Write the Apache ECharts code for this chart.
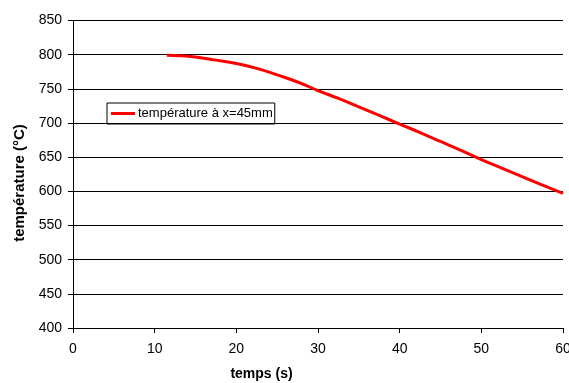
<!DOCTYPE html>
<html>
<head>
<meta charset="utf-8">
<script src="https://cdn.jsdelivr.net/npm/echarts@6/dist/echarts.min.js"></script>
<style>
html,body{margin:0;padding:0;background:#fff;}
#chart{width:569px;height:383px;}
</style>
</head>
<body>
<div id="chart"></div>
<script>
var seriesName = 'température à x=45mm';
var times = [11.5, 13, 15, 17.5, 20, 22.5, 25, 27.5, 30, 32.5, 35, 37.5, 40, 42.5, 45, 47.5, 50, 52.5, 55, 57.5, 60];
var temps = [799, 798.5, 796.5, 792, 787, 780, 770.5, 760, 747.5, 736, 723.5, 711, 698.5, 686, 673, 660, 646.5, 634, 621.5, 609, 597];
var xTicks = [0, 60, 10];
var yTicks = [400, 850, 50];
var xTitle = 'temps (s)';
var yTitle = 'température (°C)';

var data = times.map(function (t, i) { return [t, temps[i]]; });
var chart = echarts.init(document.getElementById('chart'), null, {renderer: 'canvas'});
var font = 'Liberation Sans, Arial, sans-serif';
chart.setOption({
  animation: false,
  backgroundColor: '#fff',
  grid: {left: 73, right: 6, top: 20.5, bottom: 55, containLabel: false, outerBoundsMode: 'none'},
  xAxis: {
    type: 'value', min: xTicks[0], max: xTicks[1], interval: xTicks[2],
    axisLine: {show: true, lineStyle: {color: '#000', width: 1}},
    axisTick: {show: true, length: 5, inside: false, lineStyle: {color: '#000'}},
    axisLabel: {color: '#000', fontSize: 14, fontFamily: font, margin: 14, hideOverlap: false, showMaxLabel: true},
    splitLine: {show: false}
  },
  yAxis: {
    type: 'value', min: yTicks[0], max: yTicks[1], interval: yTicks[2],
    axisLine: {show: true, lineStyle: {color: '#000', width: 1}},
    axisTick: {show: true, length: 5, lineStyle: {color: '#000'}},
    axisLabel: {color: '#000', fontSize: 14, fontFamily: font, margin: 11},
    splitLine: {show: true, lineStyle: {color: '#000', width: 1}}
  },
  legend: {
    show: true, left: 107, top: 103,
    orient: 'vertical',
    borderColor: '#000', borderWidth: 1, borderRadius: 0,
    padding: [4, 2, 4, 4],
    itemWidth: 24, itemHeight: 3, itemGap: 0,
    icon: 'rect',
    textStyle: {color: '#000', fontSize: 13, fontFamily: font, padding: [0, 0, 0, -2]},
    data: [{name: seriesName, icon: 'rect'}]
  },
  graphic: [
    {type: 'text', x: 261.5, y: 374,
     style: {text: xTitle, font: 'bold 14px ' + font, fill: '#000', align: 'center', verticalAlign: 'middle'}},
    {type: 'text', x: 19.5, y: 183, rotation: Math.PI / 2,
     style: {text: yTitle, font: 'bold 15px ' + font, fill: '#000', align: 'center', verticalAlign: 'middle'}}
  ],
  series: [{
    name: seriesName, type: 'line', data: data, smooth: true, showSymbol: false,
    lineStyle: {color: '#ff0000', width: 3}, itemStyle: {color: '#ff0000'}
  }]
});
</script>
</body>
</html>
